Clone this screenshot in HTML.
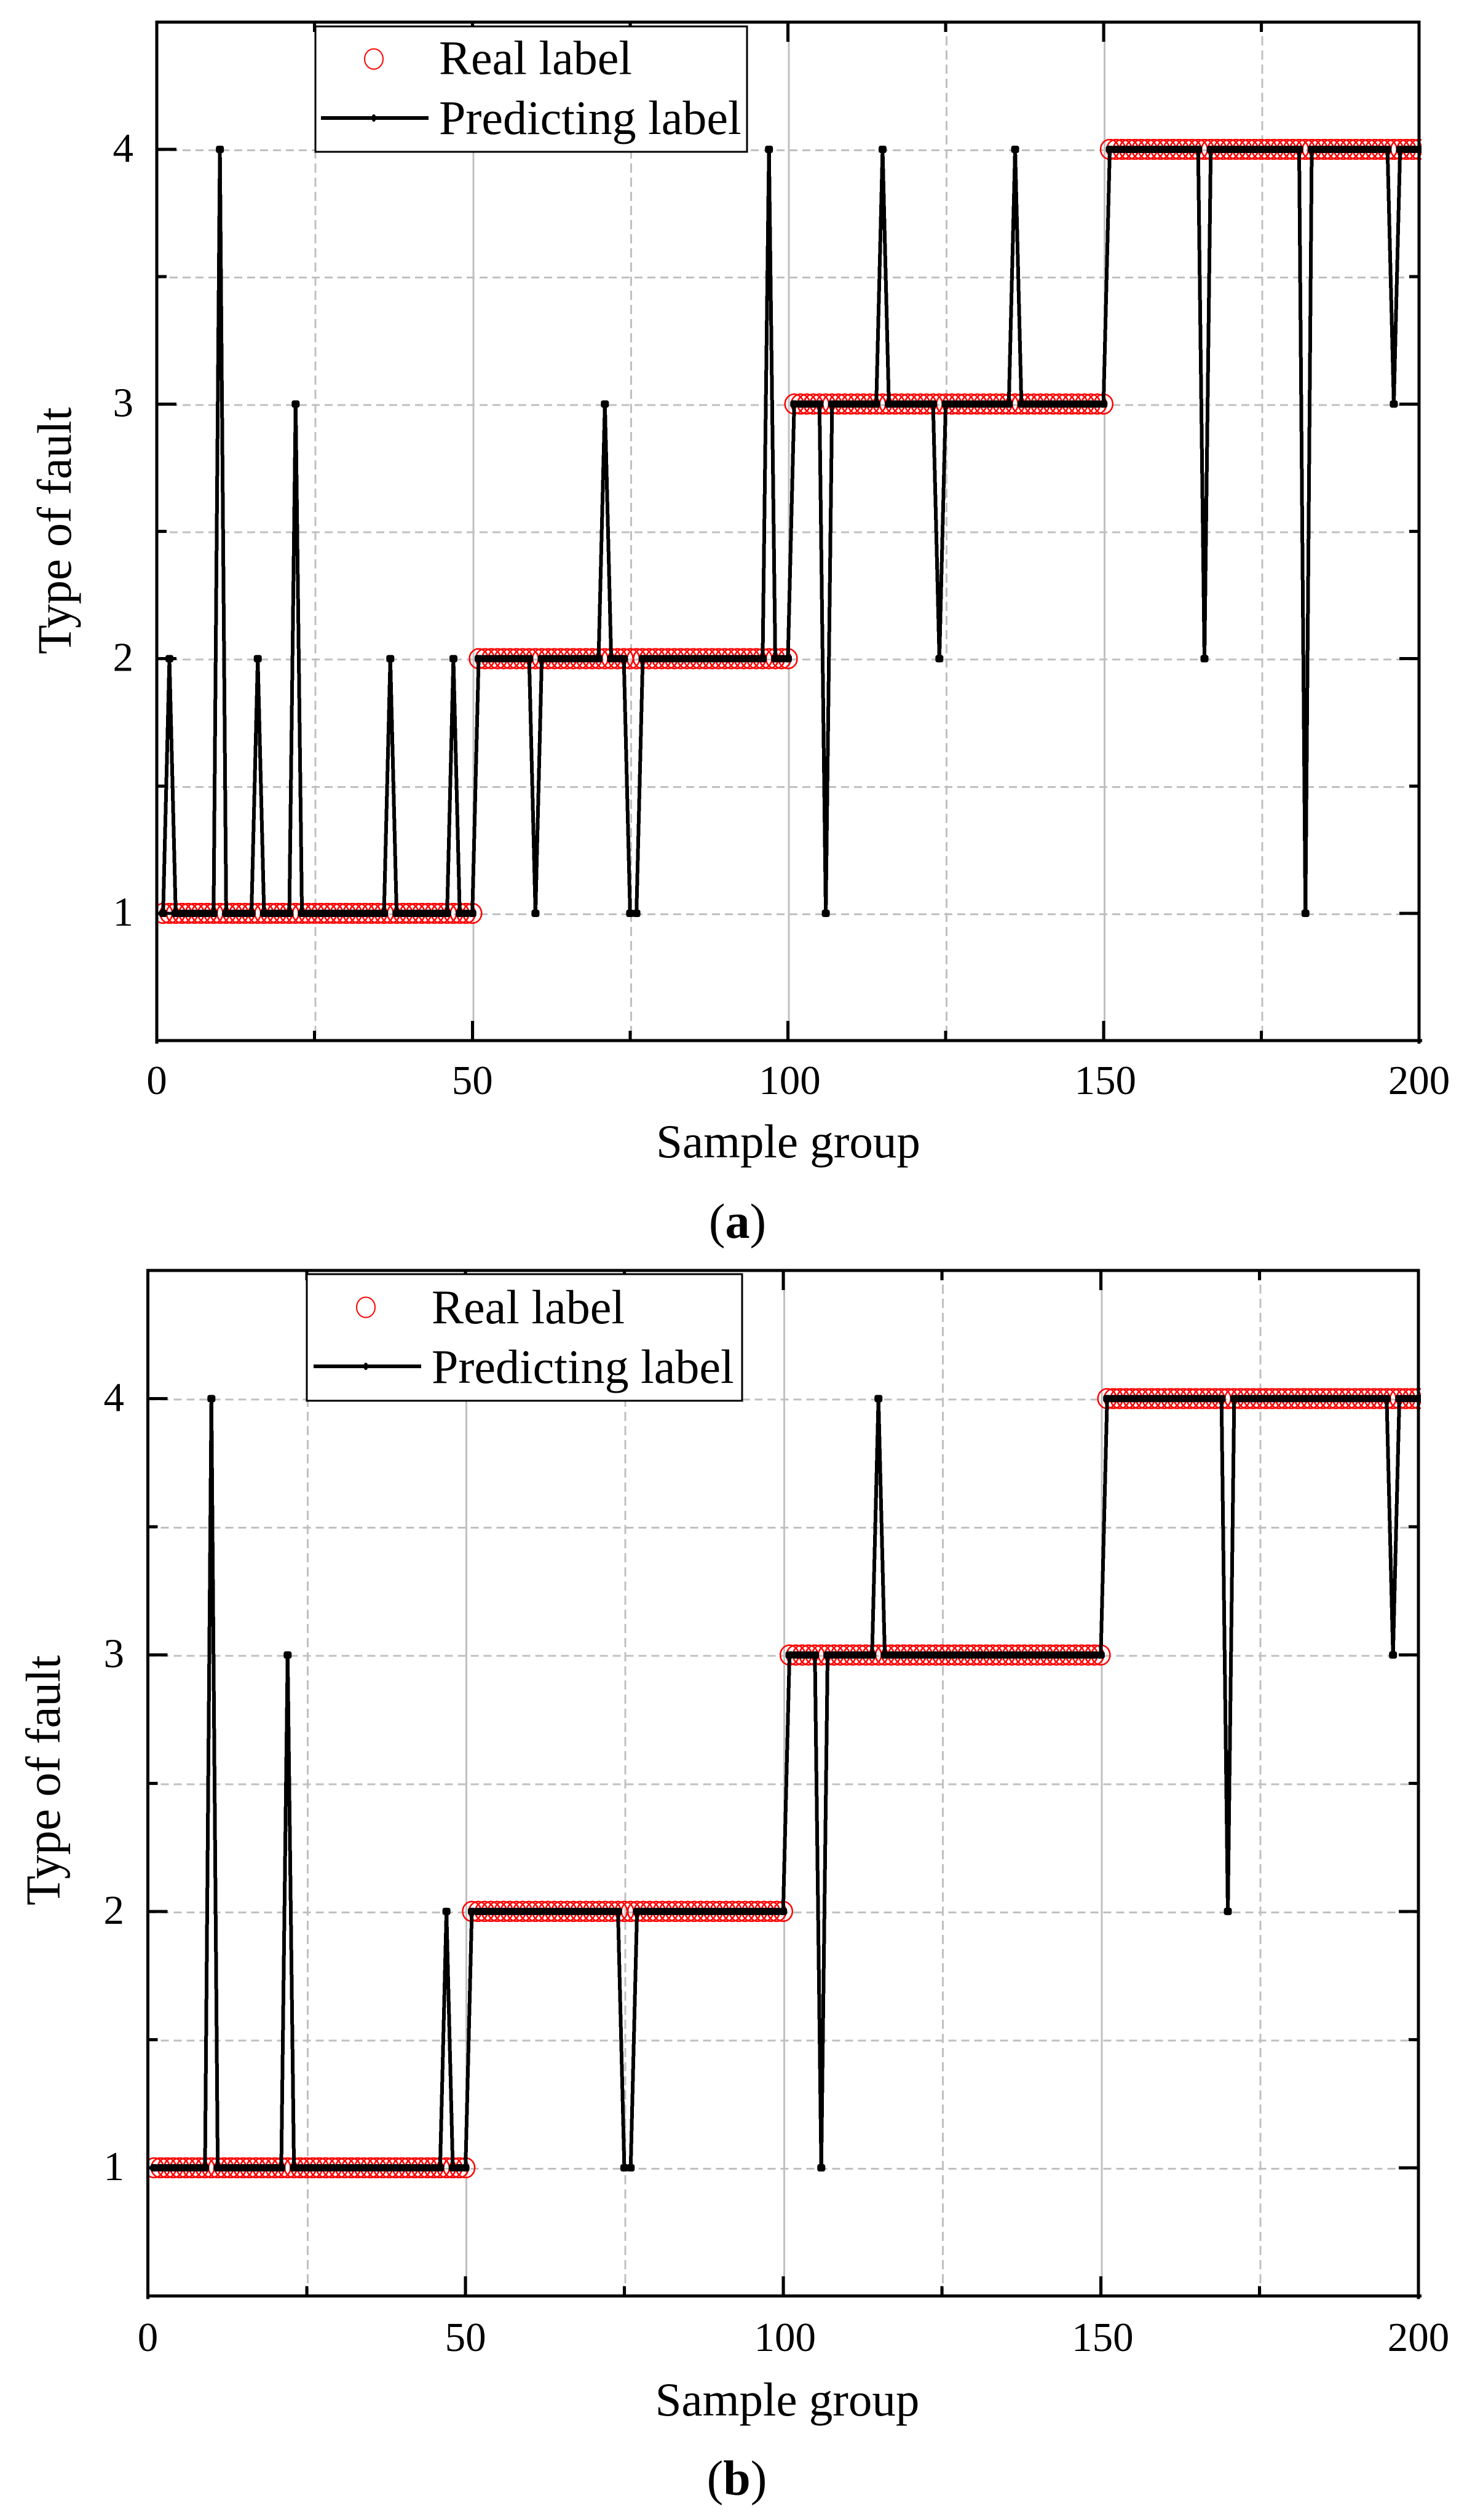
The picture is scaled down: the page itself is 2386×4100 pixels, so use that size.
<!DOCTYPE html>
<html lang="en">
<head>
<meta charset="utf-8">
<title>Real and predicted fault labels</title>
<style>
  html, body { margin: 0; padding: 0; background: #fff; }
  svg { display: block; }
  text { font-family: "Liberation Serif", "Times New Roman", serif; fill: #000; }
</style>
</head>
<body>
<svg id="figure" xmlns="http://www.w3.org/2000/svg" width="2386" height="4100" viewBox="0 0 2386 4100">
  <rect x="0" y="0" width="2386" height="4100" fill="#fff"/>

  <g id="panel-a">
    <g id="panel-a-marks"></g>
    <g>
      <rect x="513" y="43" width="702" height="204" fill="#fff" stroke="#000" stroke-width="3" shape-rendering="crispEdges"/>
      <ellipse cx="608" cy="96" rx="15" ry="16.5" fill="none" stroke="#f00" stroke-width="2"/>
      <text x="714" y="120.5" font-size="78">Real label</text>
      <line x1="522" y1="192" x2="697" y2="192" stroke="#000" stroke-width="6" shape-rendering="crispEdges"/>
      <ellipse cx="608" cy="192" rx="3.5" ry="6" fill="#000"/>
      <text x="714" y="218" font-size="78">Predicting label</text>
    </g>
    <text x="1282" y="1883" font-size="77" text-anchor="middle">Sample group</text>
    <text transform="translate(115 863.5) rotate(-90)" font-size="78" text-anchor="middle">Type of fault</text>
    <text x="1199.5" y="2014" font-size="80" text-anchor="middle">(<tspan font-weight="bold">a</tspan>)</text>
  </g>

  <g id="panel-b">
    <g id="panel-b-marks"></g>
    <g>
      <rect x="499" y="2073" width="708" height="206" fill="#fff" stroke="#000" stroke-width="3" shape-rendering="crispEdges"/>
      <ellipse cx="595" cy="2127" rx="15" ry="16.5" fill="none" stroke="#f00" stroke-width="2"/>
      <text x="702" y="2153" font-size="78">Real label</text>
      <line x1="510" y1="2223" x2="685" y2="2223" stroke="#000" stroke-width="6" shape-rendering="crispEdges"/>
      <ellipse cx="595" cy="2223" rx="3.5" ry="6" fill="#000"/>
      <text x="702" y="2250" font-size="78">Predicting label</text>
    </g>
    <text x="1280.5" y="3930" font-size="77" text-anchor="middle">Sample group</text>
    <text transform="translate(97 2896.5) rotate(-90)" font-size="79" text-anchor="middle">Type of fault</text>
    <text x="1198.5" y="4059" font-size="80" text-anchor="middle">(<tspan font-weight="bold">b</tspan>)</text>
  </g>
</svg>

<script>
// Chart data
const xTickLabels = [0, 50, 100, 150, 200];
const xMinorTicks = [25, 75, 125, 175];
const yTickLabels = [1, 2, 3, 4];
const yMinorTicks = [0.5, 1.5, 2.5, 3.5, 4.5];

const realLabels = [
  1,1,1,1,1,1,1,1,1,1, 1,1,1,1,1,1,1,1,1,1, 1,1,1,1,1,1,1,1,1,1, 1,1,1,1,1,1,1,1,1,1, 1,1,1,1,1,1,1,1,1,1,
  2,2,2,2,2,2,2,2,2,2, 2,2,2,2,2,2,2,2,2,2, 2,2,2,2,2,2,2,2,2,2, 2,2,2,2,2,2,2,2,2,2, 2,2,2,2,2,2,2,2,2,2,
  3,3,3,3,3,3,3,3,3,3, 3,3,3,3,3,3,3,3,3,3, 3,3,3,3,3,3,3,3,3,3, 3,3,3,3,3,3,3,3,3,3, 3,3,3,3,3,3,3,3,3,3,
  4,4,4,4,4,4,4,4,4,4, 4,4,4,4,4,4,4,4,4,4, 4,4,4,4,4,4,4,4,4,4, 4,4,4,4,4,4,4,4,4,4, 4,4,4,4,4,4,4,4,4,4
];

const predictedA = [
  1,2,1,1,1,1,1,1,1,4, 1,1,1,1,1,2,1,1,1,1, 1,3,1,1,1,1,1,1,1,1, 1,1,1,1,1,1,2,1,1,1, 1,1,1,1,1,1,2,1,1,1,
  2,2,2,2,2,2,2,2,2,1, 2,2,2,2,2,2,2,2,2,2, 3,2,2,2,1,1,2,2,2,2, 2,2,2,2,2,2,2,2,2,2, 2,2,2,2,2,2,4,2,2,2,
  3,3,3,3,3,1,3,3,3,3, 3,3,3,3,4,3,3,3,3,3, 3,3,3,2,3,3,3,3,3,3, 3,3,3,3,3,4,3,3,3,3, 3,3,3,3,3,3,3,3,3,3,
  4,4,4,4,4,4,4,4,4,4, 4,4,4,4,4,2,4,4,4,4, 4,4,4,4,4,4,4,4,4,4, 4,1,4,4,4,4,4,4,4,4, 4,4,4,4,4,3,4,4,4,4
];

const predictedB = [
  1,1,1,1,1,1,1,1,1,4, 1,1,1,1,1,1,1,1,1,1, 1,3,1,1,1,1,1,1,1,1, 1,1,1,1,1,1,1,1,1,1, 1,1,1,1,1,1,2,1,1,1,
  2,2,2,2,2,2,2,2,2,2, 2,2,2,2,2,2,2,2,2,2, 2,2,2,2,1,1,2,2,2,2, 2,2,2,2,2,2,2,2,2,2, 2,2,2,2,2,2,2,2,2,2,
  3,3,3,3,3,1,3,3,3,3, 3,3,3,3,4,3,3,3,3,3, 3,3,3,3,3,3,3,3,3,3, 3,3,3,3,3,3,3,3,3,3, 3,3,3,3,3,3,3,3,3,3,
  4,4,4,4,4,4,4,4,4,4, 4,4,4,4,4,4,4,4,4,2, 4,4,4,4,4,4,4,4,4,4, 4,4,4,4,4,4,4,4,4,4, 4,4,4,4,4,3,4,4,4,4
];

const SVG_NS = 'http://www.w3.org/2000/svg';

function drawLine(parent, x1, y1, x2, y2, color, width, dash) {
  const el = document.createElementNS(SVG_NS, 'line');
  el.setAttribute('x1', x1);
  el.setAttribute('y1', y1);
  el.setAttribute('x2', x2);
  el.setAttribute('y2', y2);
  el.setAttribute('stroke', color);
  el.setAttribute('stroke-width', width);
  if (dash) el.setAttribute('stroke-dasharray', dash);
  el.setAttribute('shape-rendering', 'crispEdges');
  parent.appendChild(el);
  return el;
}

function drawText(parent, x, y, anchor, content) {
  const el = document.createElementNS(SVG_NS, 'text');
  el.setAttribute('x', x);
  el.setAttribute('y', y);
  el.setAttribute('font-size', 67);
  el.setAttribute('text-anchor', anchor);
  el.textContent = content;
  parent.appendChild(el);
  return el;
}

function drawGroup(parent) {
  const el = document.createElementNS(SVG_NS, 'g');
  parent.appendChild(el);
  return el;
}

function renderChart(opts, predicted) {
  const root = document.getElementById(opts.rootId);
  const xScale = v => opts.x0 + (v - 0) * (opts.x200 - opts.x0) / 200;
  const yScale = v => opts.y1 + (v - 1) * (opts.y4 - opts.y1) / 3;
  const left = xScale(0), right = xScale(200), top = yScale(4.5), bottom = yScale(0.5);
  const major = 32, minor = 16;

  // Clip region
  const defs = document.createElementNS(SVG_NS, 'defs');
  const clip = document.createElementNS(SVG_NS, 'clipPath');
  clip.setAttribute('id', opts.rootId + '-clip');
  const clipRect = document.createElementNS(SVG_NS, 'rect');
  clipRect.setAttribute('x', left);
  clipRect.setAttribute('y', top);
  clipRect.setAttribute('width', right - left + 4);
  clipRect.setAttribute('height', bottom - top);
  clip.appendChild(clipRect);
  defs.appendChild(clip);
  root.appendChild(defs);

  // Grid
  const grid = drawGroup(root);
  
  
  xTickLabels.slice(1, -1).forEach(v => {
    const el = drawLine(grid, xScale(v) + 1.5, top, xScale(v) + 1.5, bottom, '#c0c0c0', 3);
    
    
  });
  xMinorTicks.forEach(v => {
    const el = drawLine(grid, xScale(v) + 1.5, top, xScale(v) + 1.5, bottom, '#c0c0c0', 3, '15 8');
    
    
  });
  yTickLabels.concat(yMinorTicks.slice(1, -1)).forEach(v => {
    const el = drawLine(grid, left, yScale(v) + 1.5, right, yScale(v) + 1.5, '#c0c0c0', 3, '13 8');
    
    
  });

  // Real label series
  const realSeries = drawGroup(root);
  
  
  realSeries.setAttribute('clip-path', 'url(#' + opts.rootId + '-clip)');
  realLabels.forEach((v, i) => {
    const c = document.createElementNS(SVG_NS, 'ellipse');
    c.setAttribute('cx', xScale(i + 1));
    c.setAttribute('cy', yScale(v));
    c.setAttribute('rx', 15);
    c.setAttribute('ry', 16);
    c.setAttribute('fill', 'none');
    c.setAttribute('stroke', '#f00');
    c.setAttribute('stroke-width', 2.5);
    c.setAttribute('shape-rendering', 'crispEdges');
    
    
    realSeries.appendChild(c);
  });

  // Predicted series
  const predSeries = drawGroup(root);
  
  
  predSeries.setAttribute('clip-path', 'url(#' + opts.rootId + '-clip)');
  const poly = document.createElementNS(SVG_NS, 'polyline');
  poly.setAttribute('points', predicted.map((v, i) => xScale(i + 1) + ',' + yScale(v)).join(' '));
  poly.setAttribute('fill', 'none');
  poly.setAttribute('stroke', '#000');
  poly.setAttribute('stroke-width', 6);
  poly.setAttribute('shape-rendering', 'crispEdges');
  
  
  predSeries.appendChild(poly);
  predicted.forEach((v, i) => {
    const c = document.createElementNS(SVG_NS, 'rect');
    c.setAttribute('x', xScale(i + 1) - 6.5);
    c.setAttribute('y', yScale(v) - 6);
    c.setAttribute('width', 13);
    c.setAttribute('height', 12);
    c.setAttribute('rx', 3.5);
    c.setAttribute('fill', '#000');
    
    
    predSeries.appendChild(c);
  });

  // Ticks
  const ticks = drawGroup(root);
  
  
  const xTick = (v, len) => {
    const a = drawLine(ticks, xScale(v), bottom, xScale(v), bottom - len, '#000', 5);
    
    
    const b = drawLine(ticks, xScale(v), top, xScale(v), top + len, '#000', 5);
    
    
  };
  const yTick = (v, len) => {
    const a = drawLine(ticks, left, yScale(v), left + len, yScale(v), '#000', 5);
    
    
    const b = drawLine(ticks, right, yScale(v), right - len, yScale(v), '#000', 5);
    
    
  };
  xTickLabels.forEach(v => xTick(v, major));
  xMinorTicks.forEach(v => xTick(v, minor));
  yTickLabels.forEach(v => yTick(v, major));
  yMinorTicks.forEach(v => yTick(v, minor));

  // Axis frame
  const frame = drawGroup(root);
  
  
  const frameLeft = drawLine(frame, left, top - 2.5, left, bottom + 5, '#000', 5);
  
  
  const frameRight = drawLine(frame, right, top - 2.5, right, bottom + 5, '#000', 5);
  
  
  const frameTop = drawLine(frame, left - 2.5, top, right + 2.5, top, '#000', 5);
  
  
  const frameBottom = drawLine(frame, left - 2.5, bottom, right + 5, bottom, '#000', 5);
  
  

  // Tick labels
  const labels = drawGroup(root);
  
  
  xTickLabels.forEach(v => {
    const t = drawText(labels, xScale(v) + (v === 100 || v === 150 ? 3 : 0), opts.xLabelBase, 'middle', String(v));
    
    
  });
  yTickLabels.forEach(v => {
    const t = drawText(labels, opts.yLabelRight, yScale(v) + 20, 'end', String(v));
    
    
  });
}

renderChart({ rootId: 'panel-a-marks', x0: 255, x200: 2308, y1: 1486, y4: 243, xLabelBase: 1780, yLabelRight: 217 }, predictedA);
renderChart({ rootId: 'panel-b-marks', x0: 240.5, x200: 2307, y1: 3527, y4: 2275.5, xLabelBase: 3825, yLabelRight: 202 }, predictedB);
</script>
</body>
</html>
